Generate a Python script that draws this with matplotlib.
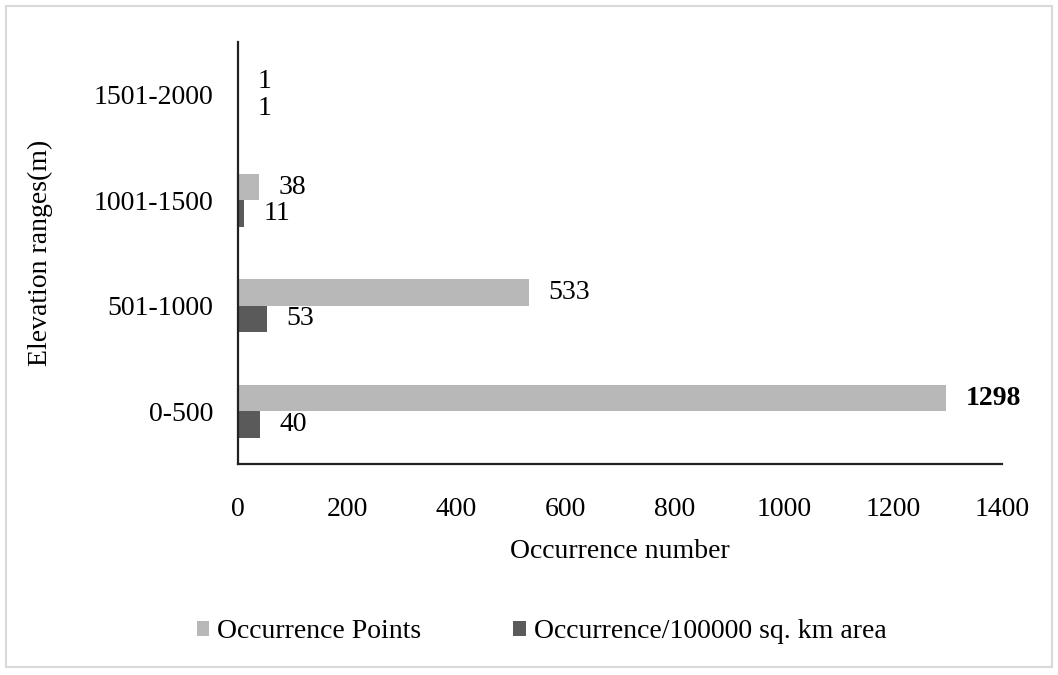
import matplotlib.pyplot as plt
import matplotlib.patches as mpatches
import numpy as np

plt.rcParams['font.family'] = ['Liberation Serif', 'DejaVu Serif']

categories = ['0-500', '501-1000', '1001-1500', '1501-2000']
occ_points = [1298, 533, 38, 1]
occ_per_area = [40, 53, 11, 1]

LIGHT = '#b8b8b8'
DARK = '#5a5a5a'
FS = 20

fig = plt.figure(figsize=(10.58, 6.75), dpi=100)
ax = fig.add_axes([0.225, 0.3126, 0.722, 0.625])

y = np.arange(len(categories))
h = 0.25
bars1 = ax.barh(y + h / 2, occ_points, height=h, color=LIGHT, label='Occurrence Points')
bars2 = ax.barh(y - h / 2, occ_per_area, height=h, color=DARK, label='Occurrence/100000 sq. km area')

# value labels, ~18 px right of the bar end
for b, v in zip(bars1, occ_points):
    weight = 'bold' if v == max(occ_points) else 'normal'
    ax.annotate(str(v), (b.get_width(), b.get_y() + b.get_height() / 2),
                xytext=(14, 0), textcoords='offset points',
                va='center', ha='left', fontsize=FS, fontweight=weight)
for b, v in zip(bars2, occ_per_area):
    ax.annotate(str(v), (b.get_width(), b.get_y() + b.get_height() / 2),
                xytext=(14, 0), textcoords='offset points',
                va='center', ha='left', fontsize=FS)

ax.set_xlim(0, 1400)
ax.set_ylim(-0.5, 3.5)
ax.set_xticks(range(0, 1401, 200))
ax.set_yticks(y)
ax.set_yticklabels(categories)
ax.tick_params(length=0, labelsize=FS)
ax.tick_params(axis='x', pad=24)
ax.tick_params(axis='y', pad=18)
for s in ['top', 'right']:
    ax.spines[s].set_visible(False)
for s in ['left', 'bottom']:
    ax.spines[s].set_color('#222222')
    ax.spines[s].set_linewidth(1.6)

ax.set_xlabel('Occurrence number', fontsize=FS, labelpad=12)
ax.set_ylabel('Elevation ranges(m)', fontsize=FS, labelpad=29)

ax.legend(loc='center', bbox_to_anchor=(0.512, 0.064), bbox_transform=fig.transFigure,
          ncol=2, frameon=False, fontsize=FS, handlelength=0.45, handleheight=0.45,
          columnspacing=3.3, handletextpad=0.3)

fig.patches.append(mpatches.Rectangle((6 / 1058, 8 / 675), 1046 / 1058, 661 / 675,
                                      transform=fig.transFigure, fill=False,
                                      edgecolor='#d9d9d9', linewidth=1.5))

fig.savefig('out.png', dpi=100)
